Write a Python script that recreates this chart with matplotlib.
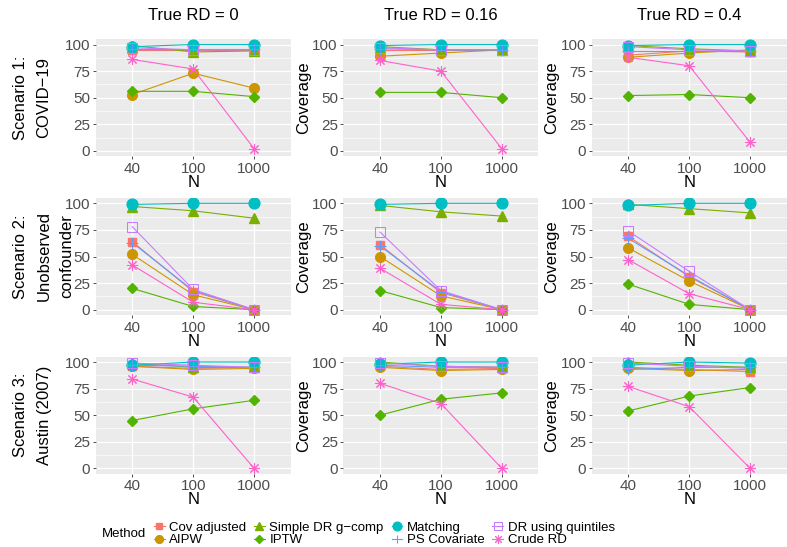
import numpy as np
import matplotlib.pyplot as plt
from matplotlib.lines import Line2D
from matplotlib.ticker import MultipleLocator

plt.rcParams['font.family'] = ['Liberation Sans', 'DejaVu Sans']

# ---- data (coverage %, panels ordered scenario 1..3, each RD 0 / 0.16 / 0.4) ----
n_labels = ['40', '100', '1000']
rd_titles = ['True RD = 0', 'True RD = 0.16', 'True RD = 0.4']
scenario_lines = [['Scenario 1:', 'COVID\u221219'],
                  ['Scenario 2:', 'Unobserved', 'confounder'],
                  ['Scenario 3:', 'Austin (2007)']]
methods = ['Cov adjusted', 'AIPW', 'Simple DR g\u2212comp', 'IPTW',
           'Matching', 'PS Covariate', 'DR using quintiles', 'Crude RD']

cov_adjusted = [[95, 95, 95], [95, 95, 95], [90, 94, 93],
                [64, 17, 0], [61, 16, 0], [69, 31, 0],
                [96, 94, 95], [96, 93, 94], [95, 93, 91]]
aipw = [[53, 73, 59], [89, 92, 95], [88, 92, 95],
        [52, 14, 0], [50, 13, 0], [58, 27, 0],
        [96, 93, 94], [95, 92, 93], [94, 92, 93]]
simple_dr = [[99, 93, 94], [98, 95, 95], [99, 96, 94],
             [97, 93, 86], [98, 92, 88], [99, 95, 91],
             [99, 95, 95], [100, 96, 95], [100, 97, 95]]
iptw = [[56, 56, 51], [55, 55, 50], [52, 53, 50],
        [20, 3, 0], [18, 2, 0], [24, 5, 0],
        [45, 56, 64], [50, 65, 71], [54, 68, 76]]
matching = [[98, 100, 100], [99, 100, 100], [99, 100, 100],
            [99, 100, 100], [99, 100, 100], [98, 100, 100],
            [97, 100, 100], [98, 100, 100], [97, 100, 99]]
ps_covariate = [[96, 96, 96], [96, 95, 95], [94, 94, 94],
                [63, 18, 0], [60, 17, 0], [67, 32, 0],
                [97, 96, 95], [97, 95, 95], [93, 95, 95]]
dr_quintiles = [[97, 95, 95], [97, 95, 95], [98, 95, 94],
                [78, 19, 0], [73, 18, 0], [74, 36, 0],
                [99, 97, 95], [99, 96, 95], [99, 96, 94]]
crude_rd = [[86, 77, 2], [85, 75, 2], [88, 80, 8],
            [42, 7, 0], [39, 5, 0], [47, 15, 0],
            [84, 67, 0], [80, 61, 0], [77, 58, 0]]

series = [cov_adjusted, aipw, simple_dr, iptw, matching, ps_covariate, dr_quintiles, crude_rd]

# ---- styles ----
colors = ['#F8766D', '#CD9600', '#7CAE00', '#53B400', '#00BFC4', '#619CFF', '#C77CFF', '#FF61CC']
markers = ['s', 'o', '^', 'D', 'o', '+', 's', (8, 2, 0)]
msizes = [6.0, 7.0, 7.5, 5.0, 7.8, 8.0, 6.5, 8.0]
filled = [True, True, True, True, True, False, False, False]

W, H = 787, 547
fig = plt.figure(figsize=(W / 100, H / 100), dpi=100)

lefts = [95.7, 343.4, 591.7]
tops = [39.2, 198.0, 356.7]
pw, ph = 195.0, 117.0
x = np.arange(3)

for r in range(3):
    for c in range(3):
        ax = fig.add_axes([lefts[c] / W, 1 - (tops[r] + ph) / H, pw / W, ph / H])
        ax.set_facecolor('#EBEBEB')
        for s in ax.spines.values():
            s.set_visible(False)
        k = r * 3 + c
        for i in range(len(methods)):
            ax.plot(x, series[i][k], color=colors[i], lw=0.8, zorder=2)
        for i in range(len(methods)):
            if filled[i]:
                ax.plot(x, series[i][k], ls='none', marker=markers[i], ms=msizes[i],
                        color=colors[i], mec=colors[i], zorder=3)
            else:
                ax.plot(x, series[i][k], ls='none', marker=markers[i], ms=msizes[i],
                        mfc='none', mec=colors[i], mew=0.75, zorder=3)
        ax.set_xlim(-0.6, 2.6)
        ax.set_ylim(-5, 105)
        ax.set_xticks(x)
        ax.set_xticklabels(n_labels)
        ax.set_yticks([0, 25, 50, 75, 100])
        ax.yaxis.set_minor_locator(MultipleLocator(12.5))
        ax.grid(True, which='major', color='white', lw=0.9, zorder=0)
        ax.grid(True, which='minor', axis='y', color='white', lw=0.45, zorder=0)
        ax.set_axisbelow(True)
        ax.tick_params(which='major', length=2.5, width=0.6, color='#333333',
                       labelcolor='#4D4D4D', labelsize=11, pad=1.5)
        ax.tick_params(which='minor', length=0)
        # x title
        fig.text((lefts[c] + pw / 2) / W, 1 - (tops[r] + ph + 26) / H, 'N',
                 ha='center', va='center', fontsize=12)
        if c > 0:
            fig.text((lefts[c] - 40) / W, 1 - (tops[r] + ph / 2) / H, 'Coverage',
                     rotation=90, ha='center', va='center', fontsize=12)

for c in range(3):
    fig.text((lefts[c] + pw / 2) / W, 1 - 16 / H, rd_titles[c],
             ha='center', va='center', fontsize=12)

row_x = [[21, 44], [21, 44, 67], [21, 44]]
for r in range(3):
    for j, line in enumerate(scenario_lines[r]):
        fig.text(row_x[r][j] / W, 1 - (tops[r] + ph / 2) / H, line,
                 rotation=90, ha='center', va='center', fontsize=12)

# legend
handles = []
for i in range(len(methods)):
    if filled[i]:
        h = Line2D([], [], color=colors[i], lw=0.8, marker=markers[i],
                   ms=msizes[i] * 0.8, mec=colors[i])
    else:
        h = Line2D([], [], color=colors[i], lw=0.8, marker=markers[i],
                   ms=msizes[i] * 0.8, mfc='none', mec=colors[i], mew=0.75)
    handles.append(h)
fig.text(102 / W, 1 - 534 / H, 'Method', ha='left', va='center', fontsize=9.5)
fig.legend(handles, methods, ncol=4, loc='center left',
           bbox_to_anchor=(154 / W, 1 - 534 / H), frameon=False, fontsize=9.5,
           handlelength=0.8, handletextpad=0.35, columnspacing=0.6,
           labelspacing=0.0, borderpad=0, borderaxespad=0, handleheight=0.7)

fig.savefig('out.png', dpi=100)
